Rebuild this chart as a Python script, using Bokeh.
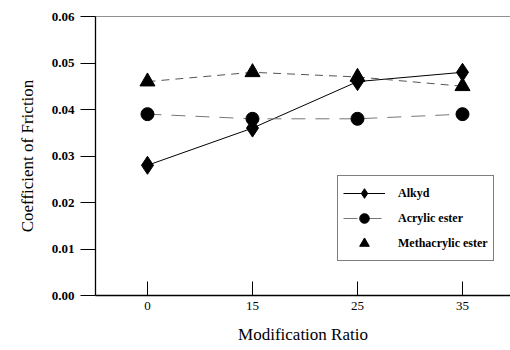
from bokeh.plotting import figure
from bokeh.models import Range1d, FixedTicker, Span, Legend, LegendItem
from bokeh.embed import file_html
from bokeh.resources import INLINE

ratios = ["0", "15", "25", "35"]
alkyd = [0.028, 0.036, 0.046, 0.048]
acrylic = [0.039, 0.038, 0.038, 0.039]
methacrylic = [0.046, 0.048, 0.047, 0.045]
y_ticks = [0.00, 0.01, 0.02, 0.03, 0.04, 0.05, 0.06]

xs = list(range(len(ratios)))
FONT = "Liberation Serif"

p = figure(width=510, height=346, output_backend="svg", toolbar_location=None,
           x_range=Range1d(-0.495, 3.457), y_range=Range1d(0, 0.06),
           min_border_left=95, min_border_right=0, min_border_top=16, min_border_bottom=49)
p.outline_line_color = None
p.xgrid.visible = False
p.ygrid.visible = False
p.background_fill_color = "white"

# axes
p.xaxis.ticker = FixedTicker(ticks=xs)
p.xaxis.major_label_overrides = {i: r for i, r in zip(xs, ratios)}
p.xaxis.minor_tick_line_color = None
p.xaxis.major_tick_in = 14
p.xaxis.major_tick_out = 0
p.xaxis.major_label_standoff = 6
p.xaxis.axis_label = "Modification Ratio"
p.xaxis.axis_label_standoff = 12

p.yaxis.ticker = FixedTicker(ticks=y_ticks)
p.yaxis.major_label_overrides = {t: f"{t:.2f}" for t in y_ticks}
p.yaxis.minor_tick_line_color = None
p.yaxis.major_tick_in = 0
p.yaxis.major_tick_out = 15
p.yaxis.major_label_standoff = 6
p.yaxis.axis_label = "Coefficient of Friction"
p.yaxis.axis_label_standoff = 12

for ax in (p.xaxis, p.yaxis):
    ax.axis_line_color = "black"
    ax.axis_line_width = 1.3
    ax.major_tick_line_color = "black"
    ax.major_label_text_font = FONT
    ax.major_label_text_font_size = "13px"
    ax.major_label_text_color = "black"
    ax.axis_label_text_font = FONT
    ax.axis_label_text_font_size = "17px"
    ax.axis_label_text_font_style = "normal"
    ax.axis_label_text_color = "black"
p.yaxis.major_label_text_font_style = "bold"

p.add_layout(Span(location=0.06, dimension="width", line_color="#222222",
                  line_width=1))

# series
l1 = p.line(xs, alkyd, line_color="black", line_width=1)
s1 = p.scatter(xs, alkyd, marker="diamond", size=18, fill_color="black", line_color="black")

l2 = p.line(xs, acrylic, line_color="#777777", line_width=1, line_dash="14 10")
s2 = p.scatter(xs, acrylic, marker="circle", size=13, fill_color="black", line_color="black")

l3 = p.line(xs, methacrylic, line_color="#555555", line_width=1, line_dash="8 6")
s3 = p.scatter(xs, methacrylic, marker="triangle", size=15, fill_color="black", line_color="black")

legend = Legend(items=[
    LegendItem(label="Alkyd", renderers=[l1, s1]),
    LegendItem(label="Acrylic ester", renderers=[l2, s2]),
    LegendItem(label="Methacrylic ester", renderers=[s3]),
], location=(242, 34))
legend.label_text_font = FONT
legend.label_text_font_style = "bold"
legend.label_text_font_size = "12px"
legend.label_text_color = "black"
legend.glyph_width = 42
legend.glyph_height = 24
legend.spacing = 1
legend.padding = 5
legend.label_standoff = 13
legend.border_line_color = "black"
legend.border_line_width = 1
legend.background_fill_alpha = 1
legend.margin = 0
p.add_layout(legend, "center")

open("out.html", "w").write(file_html(p, INLINE))
